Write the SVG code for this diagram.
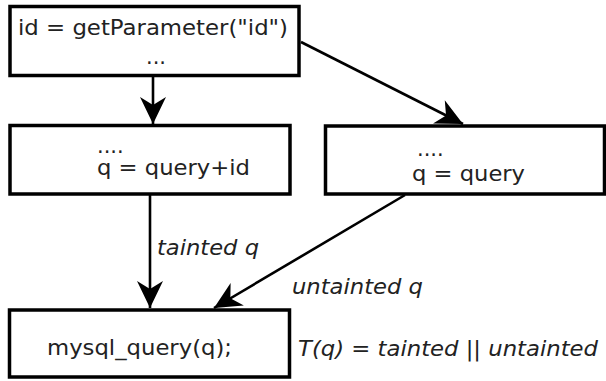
<svg xmlns="http://www.w3.org/2000/svg" width="606" height="381" viewBox="0 0 606 381">
  <style>
    .box { fill: #ffffff; stroke: #000000; stroke-width: 3.5; }
    .t { font-family: "DejaVu Sans", "Liberation Sans", sans-serif; font-size: 21px; fill: #222222; }
    .i { font-style: italic; }
    .edge { stroke: #000000; stroke-width: 2.6; fill: none; marker-end: url(#arrow); }
  </style>
  <defs>
    <marker id="arrow" markerUnits="userSpaceOnUse" viewBox="-30 -15 32 30" markerWidth="32" markerHeight="30" refX="0" refY="0" orient="auto" overflow="visible">
      <path d="M0,0 L-27,-13 L-19,0 L-27,13 Z" fill="#000000"/>
    </marker>
  </defs>
  <rect width="606" height="381" fill="#ffffff"/>

  <g id="connectors">
    <line class="edge" x1="153" y1="76" x2="153" y2="124"/>
    <line class="edge" x1="301" y1="42" x2="463" y2="124"/>
    <line class="edge" x1="150" y1="195" x2="150" y2="308"/>
    <line class="edge" x1="405" y1="195" x2="214" y2="308"/>
    <text class="t i" x="157" y="255" textLength="102" lengthAdjust="spacingAndGlyphs">tainted q</text>
    <text class="t i" x="292" y="294" textLength="131" lengthAdjust="spacingAndGlyphs">untainted q</text>
  </g>

  <g id="node-source">
    <rect class="box" x="10" y="6.5" width="289" height="69"/>
    <text class="t" x="18" y="35" textLength="270" lengthAdjust="spacingAndGlyphs">id = getParameter("id")</text>
    <text class="t" x="146" y="64">...</text>
  </g>

  <g id="node-tainted">
    <rect class="box" x="10" y="125.5" width="280" height="68.5"/>
    <text class="t" x="97" y="153">....</text>
    <text class="t" x="97" y="175" textLength="153" lengthAdjust="spacingAndGlyphs">q = query+id</text>
  </g>

  <g id="node-untainted">
    <rect class="box" x="325.5" y="126" width="279" height="68"/>
    <text class="t" x="417" y="156">....</text>
    <text class="t" x="412" y="181" textLength="113" lengthAdjust="spacingAndGlyphs">q = query</text>
  </g>

  <g id="node-sink">
    <rect class="box" x="9.5" y="310" width="280" height="67"/>
    <text class="t" x="47" y="355" textLength="185" lengthAdjust="spacingAndGlyphs">mysql_query(q);</text>
  </g>

  <text class="t i" x="298" y="356" textLength="300" lengthAdjust="spacingAndGlyphs">T(q) = tainted || untainted</text>
</svg>
